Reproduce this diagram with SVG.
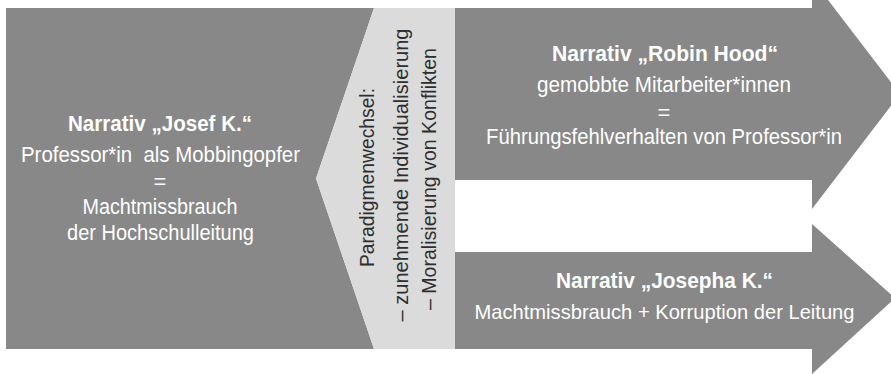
<svg xmlns="http://www.w3.org/2000/svg" width="891" height="374" viewBox="0 0 891 374">
<style>
.dark{fill:#878887}
.light{fill:#dadbda}
text{font-family:"Liberation Sans",Arial,sans-serif;font-size:22px;text-anchor:middle;white-space:pre}
.w{fill:#ffffff}
.k{fill:#2e2e2e}
.b{font-weight:bold}
.s{font-size:21px}
</style>
<rect width="891" height="374" fill="#ffffff"/>
<g id="josef">
<polygon class="dark" points="6,8 374,8 316,178.5 374,349 6,349"/>
<text class="w b" x="160" y="131" textLength="184" lengthAdjust="spacingAndGlyphs">Narrativ „Josef K.“</text>
<text class="w" x="160.5" y="162" textLength="279" lengthAdjust="spacingAndGlyphs" xml:space="preserve">Professor*in  als Mobbingopfer</text>
<text class="w" x="160" y="189">=</text>
<text class="w" x="160" y="213.5" textLength="155" lengthAdjust="spacingAndGlyphs">Machtmissbrauch</text>
<text class="w" x="160.5" y="239.5" textLength="187" lengthAdjust="spacingAndGlyphs">der Hochschulleitung</text>
</g>
<g id="paradigmenwechsel">
<polygon class="light" points="374,8 455,8 455,349 374,349 316,178.5"/>
<text class="k s" transform="translate(373.5,177.5) rotate(-90)" textLength="179" lengthAdjust="spacingAndGlyphs">Paradigmenwechsel:</text>
<text class="k s" transform="translate(407.5,175) rotate(-90)" textLength="293" lengthAdjust="spacingAndGlyphs">– zunehmende Individualisierung</text>
<text class="k s" transform="translate(435.5,179) rotate(-90)" textLength="262" lengthAdjust="spacingAndGlyphs">– Moralisierung von Konflikten</text>
</g>
<g id="robin-hood">
<polygon class="dark" points="455,8 812,8 812,-21 900,94 812,209 812,180 455,180"/>
<text class="w b" x="665" y="60.5" textLength="226" lengthAdjust="spacingAndGlyphs">Narrativ „Robin Hood“</text>
<text class="w" x="664" y="91.5" textLength="254" lengthAdjust="spacingAndGlyphs">gemobbte Mitarbeiter*innen</text>
<text class="w" x="664" y="120">=</text>
<text class="w" x="664" y="143.5" textLength="356" lengthAdjust="spacingAndGlyphs">Führungsfehlverhalten von Professor*in</text>
</g>
<g id="josepha">
<polygon class="dark" points="455,252 812,252 812,224 895,298 812,374 812,349 455,349"/>
<text class="w b" x="664.5" y="287.5" textLength="217" lengthAdjust="spacingAndGlyphs">Narrativ „Josepha K.“</text>
<text class="w s" x="664.5" y="318.5" textLength="380" lengthAdjust="spacingAndGlyphs">Machtmissbrauch + Korruption der Leitung</text>
</g>
<g id="connectors"/>
</svg>
